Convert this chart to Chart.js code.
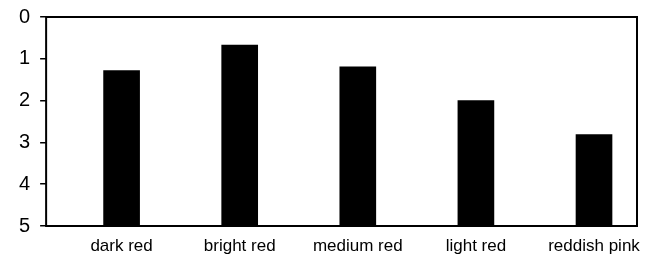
<!DOCTYPE html>
<html>
<head>
<meta charset="utf-8">
<script src="https://cdn.jsdelivr.net/npm/chart.js@4"></script>
<style>
  html, body { margin: 0; padding: 0; background: #fff; }
  #wrap { width: 658px; height: 259px; }
</style>
</head>
<body>
<div id="wrap"><canvas id="shadeChart"></canvas></div>
<script>
// Data
const categories = ['dark red', 'bright red', 'medium red', 'light red', 'reddish pink'];
const scores = [1.28, 0.67, 1.19, 2.0, 2.81];
const yTicks = [0, 1, 2, 3, 4, 5];

// frame round the plot area (top and right edges too)
const frameBox = {
  id: 'frameBox',
  afterDraw(chart) {
    const { ctx, chartArea: a } = chart;
    ctx.save();
    ctx.strokeStyle = '#000';
    ctx.lineWidth = 2;
    ctx.strokeRect(a.left, a.top, a.right - a.left, a.bottom - a.top);
    ctx.restore();
  }
};

const points = scores.map((v, i) => ({ x: i + 1, y: v }));

new Chart(document.getElementById('shadeChart'), {
  type: 'bar',
  data: {
    datasets: [{
      data: points,
      base: 5,
      backgroundColor: '#000',
      borderWidth: 0,
      barThickness: 36
    }]
  },
  options: {
    responsive: true,
    maintainAspectRatio: false,
    animation: false,
    layout: { padding: { left: 9, right: 21, top: 17, bottom: 0 } },
    plugins: { legend: { display: false }, tooltip: { enabled: false } },
    scales: {
      x: {
        type: 'linear',
        offset: false,
        min: 0.361,
        max: 5.364,
        grid: { display: false },
        border: { display: false },
        afterFit: s => { s.height = 33; },
        ticks: {
          stepSize: 1,
          includeBounds: false,
          autoSkip: false,
          maxRotation: 0,
          padding: 2,
          color: '#000',
          font: { family: '"Liberation Sans", Arial, sans-serif', size: 17 },
          callback: v => categories[v - 1] || ''
        }
      },
      y: {
        reverse: true,
        min: yTicks[0],
        max: yTicks[yTicks.length - 1],
        grid: { drawOnChartArea: false, color: '#000', tickLength: 6, lineWidth: 1.5 },
        border: { display: false },
        afterFit: s => { s.paddingTop = 0; s.paddingBottom = 0; },
        ticks: {
          stepSize: 1,
          padding: 10,
          color: '#000',
          font: { family: '"Liberation Sans", Arial, sans-serif', size: 20 }
        }
      }
    }
  },
  plugins: [frameBox]
});
</script>
</body>
</html>
